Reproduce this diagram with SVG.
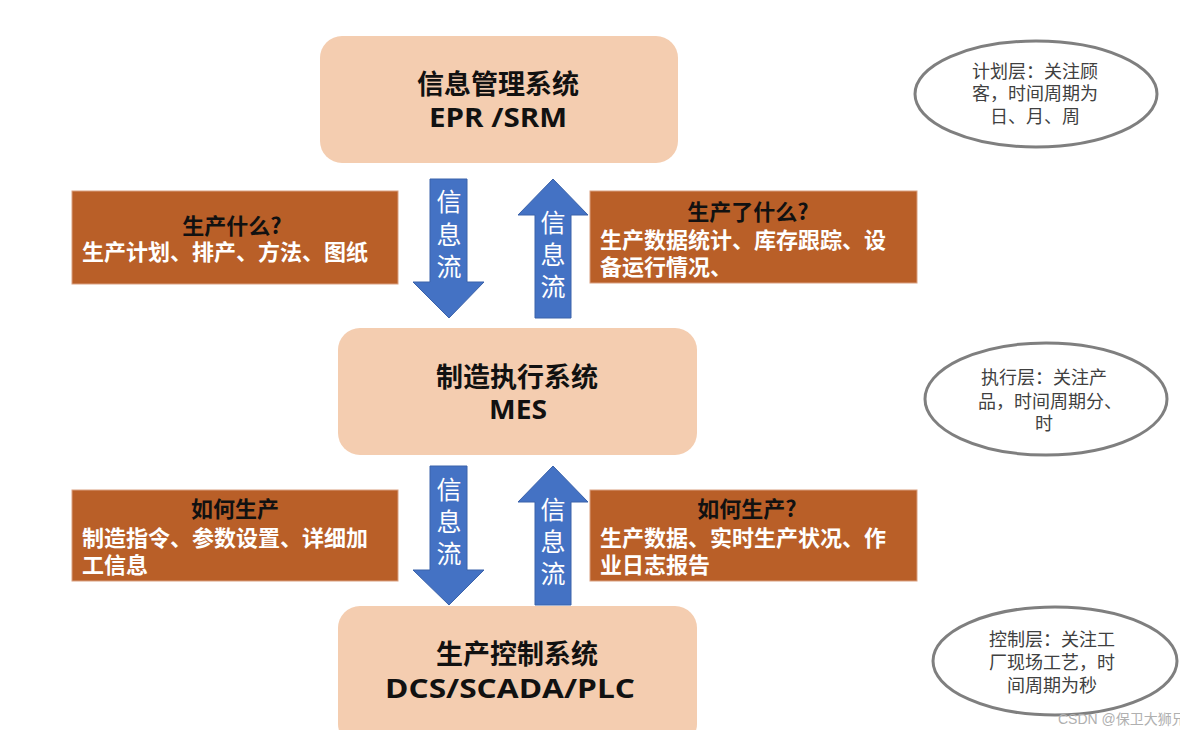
<svg xmlns="http://www.w3.org/2000/svg" width="1180" height="730" viewBox="0 0 1180 730">
<style>
.sys{fill:#f4cdb0;}
.st{font-family:"Open Sans","Noto Sans CJK SC",sans-serif;font-weight:bold;font-size:27px;fill:#111;text-anchor:middle;}
.ob{fill:#b95f28;stroke:#d9a080;stroke-width:1;}
.ot{font-family:"Noto Sans CJK SC",sans-serif;font-weight:bold;font-size:22px;fill:#111;text-anchor:middle;}
.ow{font-family:"Noto Sans CJK SC",sans-serif;font-weight:bold;font-size:22px;fill:#fff;}
.arr{fill:#4472c4;stroke:#3a62aa;stroke-width:1;}
.at{font-family:"Noto Sans CJK SC",sans-serif;font-size:25px;fill:#fff;text-anchor:middle;}
.el{fill:#fff;stroke:#7f7f7f;stroke-width:3;}
.et{font-family:"Noto Sans CJK SC",sans-serif;font-size:18px;fill:#404040;text-anchor:middle;}
</style>
<rect width="1180" height="730" fill="#fff"/>
<g id="connectors">
<g id="arrow-down-1"><path class="arr" d="M430,179 H467 V282 H484 L449,318 L413,282 H430 Z"/>
<text class="at" x="449" y="211">信</text><text class="at" x="449" y="244">息</text><text class="at" x="449" y="276">流</text></g>
<g id="arrow-up-1"><path class="arr" d="M553,179 L588,215 H571 V318 H535 V215 H518 Z"/>
<text class="at" x="553" y="232">信</text><text class="at" x="553" y="264">息</text><text class="at" x="553" y="296">流</text></g>
<g id="arrow-down-2"><path class="arr" d="M430,466 H467 V570 H484 L449,605 L413,570 H430 Z"/>
<text class="at" x="449" y="499">信</text><text class="at" x="449" y="531">息</text><text class="at" x="449" y="563">流</text></g>
<g id="arrow-up-2"><path class="arr" d="M553,466 L588,502 H571 V605 H535 V502 H518 Z"/>
<text class="at" x="553" y="519">信</text><text class="at" x="553" y="551">息</text><text class="at" x="553" y="583">流</text></g>
</g>
<g id="node-erp"><rect class="sys" x="320" y="36" width="358" height="127" rx="22"/>
<text class="st" x="498" y="94">信息管理系统</text><text class="st" x="498" y="127" textLength="138" lengthAdjust="spacingAndGlyphs">EPR /SRM</text></g>
<g id="node-mes"><rect class="sys" x="338" y="328" width="359" height="127" rx="22"/>
<text class="st" x="517" y="387">制造执行系统</text><text class="st" x="518" y="419" textLength="58" lengthAdjust="spacingAndGlyphs">MES</text></g>
<g id="node-dcs"><rect class="sys" x="338" y="606" width="359" height="140" rx="22"/>
<text class="st" x="517" y="664">生产控制系统</text><text class="st" x="510" y="698" textLength="250" lengthAdjust="spacingAndGlyphs">DCS/SCADA/PLC</text></g>
<g id="note-what"><rect class="ob" x="72" y="191" width="326" height="93"/>
<text class="ot" x="232" y="234">生产什么?</text><text class="ow" x="82" y="260">生产计划、排产、方法、图纸</text></g>
<g id="note-done"><rect class="ob" x="590" y="191" width="327" height="92"/>
<text class="ot" x="748" y="220">生产了什么?</text><text class="ow" x="600" y="248">生产数据统计、库存跟踪、设</text><text class="ow" x="600" y="275">备运行情况、</text></g>
<g id="note-how"><rect class="ob" x="72" y="490" width="326" height="91"/>
<text class="ot" x="235" y="517">如何生产</text><text class="ow" x="82" y="546">制造指令、参数设置、详细加</text><text class="ow" x="82" y="573">工信息</text></g>
<g id="note-how2"><rect class="ob" x="590" y="490" width="327" height="91"/>
<text class="ot" x="747" y="517">如何生产?</text><text class="ow" x="600" y="546">生产数据、实时生产状况、作</text><text class="ow" x="600" y="573">业日志报告</text></g>
<g id="layer-plan"><ellipse class="el" cx="1036" cy="94" rx="121" ry="53"/>
<text class="et" x="1035" y="78">计划层：关注顾</text><text class="et" x="1035" y="100">客，时间周期为</text><text class="et" x="1035" y="123">日、月、周</text></g>
<g id="layer-exec"><ellipse class="el" cx="1046" cy="399" rx="121" ry="56"/>
<text class="et" x="1044" y="384">执行层：关注产</text><text class="et" x="1050" y="408">品，时间周期分、</text><text class="et" x="1044" y="430">时</text></g>
<g id="layer-ctrl"><ellipse class="el" cx="1055" cy="661" rx="122" ry="54"/>
<text class="et" x="1052" y="646">控制层：关注工</text><text class="et" x="1052" y="669">厂现场工艺，时</text><text class="et" x="1052" y="692">间周期为秒</text></g>
<text x="1058" y="724" font-family="Liberation Sans,Noto Sans CJK SC,sans-serif" font-size="14" fill="#b0b0b0">CSDN @保卫大狮兄</text>
</svg>
